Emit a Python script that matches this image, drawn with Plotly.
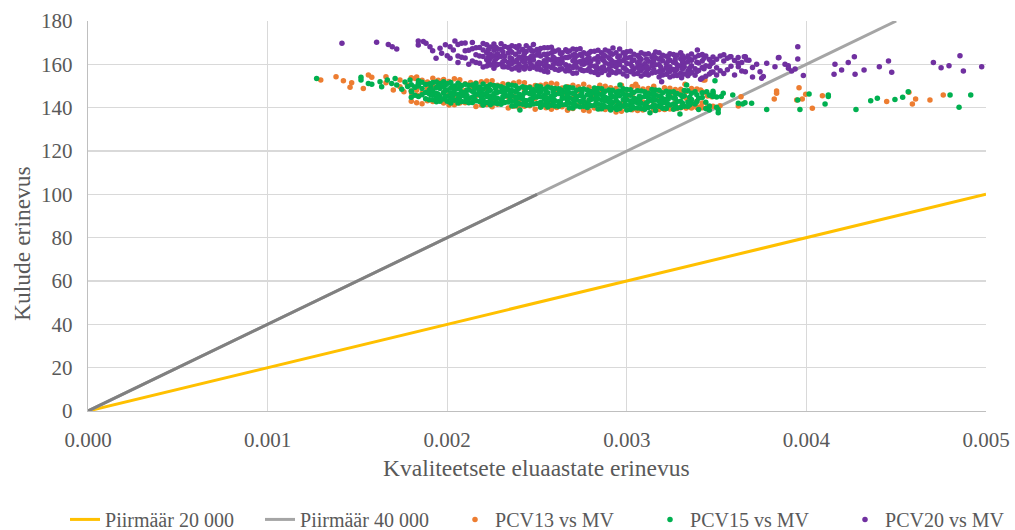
import plotly.graph_objects as go

# ---------------- threshold lines ----------------
piir20_x = [0.0, 0.005]
piir20_y = [0, 100]
piir40_x = [0.0, 0.0045]
piir40_y = [0, 180]
piir40_dark_x = [0.0, 0.0025]
piir40_dark_y = [0, 100]

# ---------------- PCV20 vs MV (purple) ----------------
pcv20_col_x = [
    0.00206, 0.00208, 0.00210, 0.00212, 0.00214, 0.00216, 0.00218, 0.00220, 0.00222, 0.00224,
    0.00226, 0.00228, 0.00230, 0.00232, 0.00234, 0.00236, 0.00238, 0.00240, 0.00242, 0.00244,
    0.00246, 0.00248, 0.00250, 0.00252, 0.00254, 0.00256, 0.00258, 0.00260, 0.00262, 0.00264,
    0.00266, 0.00268, 0.00270, 0.00272, 0.00274, 0.00276, 0.00278, 0.00280, 0.00282, 0.00284,
    0.00286, 0.00288, 0.00290, 0.00292, 0.00294, 0.00296, 0.00298, 0.00300, 0.00302, 0.00304,
    0.00306, 0.00308, 0.00310, 0.00312, 0.00314, 0.00316, 0.00318, 0.00320, 0.00322, 0.00324,
    0.00326, 0.00328, 0.00330, 0.00332, 0.00334, 0.00336, 0.00338, 0.00340, 0.00342, 0.00344,
    0.00346, 0.00348, 0.00350, 0.00352, 0.00354, 0.00356, 0.00358, 0.00360, 0.00362, 0.00364,
    0.00366, 0.00368, 0.00370,
]
pcv20_col_y = [
    [169.1, 163.8, 160.8], [169.7, 163.3], [166.3, 162.9, 169.8], [166.5, 160.0], [167.2, 161.5, 170.1],
    [164.4, 160.9, 167.6], [167.8, 163.8, 160.5], [169.6, 166.6, 163.6, 158.8], [169.0, 165.5, 162.1, 159.2], [168.0, 162.7, 159.7, 164.6],
    [166.5, 160.8, 169.4, 164.0, 158.2], [167.2, 163.2, 159.9, 164.9], [166.8, 163.6, 160.1, 169.5], [168.2, 163.8, 161.8, 158.9], [165.2, 160.9, 167.8, 158.7],
    [168.6, 165.6, 162.6, 157.8, 160.4], [168.1, 164.6, 161.2, 158.3], [165.7, 160.0, 168.6, 163.2, 157.4], [166.9, 161.6, 158.6, 163.5], [165.9, 162.7, 159.2, 168.6],
    [167.4, 163.0, 161.0, 158.1], [166.0, 162.0, 158.7, 163.7, 169.2], [164.3, 160.0, 166.9, 157.8], [167.3, 163.8, 160.4, 157.5], [167.6, 164.6, 161.6, 156.8, 159.4],
    [164.8, 159.1, 167.7, 162.3, 156.5], [165.2, 162.0, 158.5, 167.9], [166.0, 160.7, 157.7, 162.6], [166.6, 162.2, 160.2, 157.3], [165.3, 161.3, 158.0, 163.0],
    [166.7, 163.2, 159.8, 156.9], [163.5, 159.2, 166.1, 157.0], [164.2, 158.5, 167.1, 161.7, 155.9], [166.8, 163.8, 160.8, 156.0, 158.6], [164.5, 161.3, 157.8, 167.2],
    [165.3, 160.0, 157.0, 161.9], [164.6, 160.6, 157.3, 162.3], [165.9, 161.5, 159.5, 156.6], [166.0, 162.5, 159.1, 156.2], [163.6, 157.9, 166.5, 161.1, 155.3],
    [162.7, 158.4, 165.3, 156.2], [163.9, 160.7, 157.2, 166.6], [166.0, 163.0, 160.0, 155.2, 157.8], [164.7, 159.4, 156.4, 161.3], [165.3, 160.9, 158.9, 156.0],
    [163.9, 159.9, 156.6, 161.6, 167.1], [165.3, 161.8, 158.4, 155.5], [162.9, 157.2, 165.8, 160.4, 154.6], [163.3, 160.1, 156.6, 166.0], [162.0, 157.7, 164.6, 155.5],
    [164.1, 158.8, 155.8, 160.7], [165.4, 162.4, 159.4, 154.6, 157.2], [164.7, 160.3, 158.3, 155.4], [164.9, 161.4, 158.0, 155.1], [163.3, 159.3, 156.0, 161.0],
    [163.0, 159.8, 156.3, 165.7], [162.4, 156.7, 165.3, 159.9, 154.1], [161.6, 157.3, 164.2, 155.1], [163.7, 158.4, 155.4, 160.3], [164.9, 161.9, 158.9, 154.1, 156.7],
    [164.5, 161.0, 157.6, 154.7], [164.2, 159.8, 157.8, 154.9], [162.6, 159.4, 155.9, 165.3], [162.8, 158.8, 155.5, 160.5], [161.2, 156.9, 163.8, 154.7],
    [161.9, 156.2, 164.8, 159.4], [163.3, 158.0, 155.0], [164.1, 160.6, 157.2], [164.5, 161.5, 158.5, 153.7], [163.8, 159.4, 154.5],
    [162.2, 159.0, 155.5], [160.8, 156.5, 163.4], [162.4, 158.4, 155.1], [163.8, 157.0], [161.5, 155.8, 164.4],
    [162.8, 157.5], [163.5, 159.1], [161.8, 155.1], [160.5, 163.1], [156.9, 160.9],
    [163.5, 156.6], [161.9], [158.5, 154.2],
]
pcv20_fill_x = [
    0.00223, 0.00227, 0.00231, 0.00235, 0.00239, 0.00243, 0.00247, 0.00251, 0.00255, 0.00259,
    0.00263, 0.00267, 0.00271, 0.00275, 0.00279, 0.00283, 0.00287, 0.00291, 0.00295, 0.00299,
    0.00303, 0.00307, 0.00311, 0.00315, 0.00319, 0.00323, 0.00327, 0.00331, 0.00335, 0.00339,
    0.00343, 0.00347,
]
pcv20_fill_y = [
    [166.9, 161.0, 163.4], [162.4, 167.9, 159.6], [165.8, 161.2, 158.9], [160.2, 166.4, 163.0], [167.5, 162.1, 158.7],
    [161.0, 164.9, 157.9], [166.3, 159.6, 163.9], [160.9, 165.6, 158.3], [164.2, 157.6, 161.0], [159.8, 166.2, 163.4],
    [165.0, 160.3, 157.8], [158.4, 163.1, 165.9], [164.7, 159.6, 162.4], [157.3, 163.9, 160.2], [163.0, 158.1, 165.2],
    [159.2, 162.6, 156.9], [164.3, 158.8, 161.9], [157.0, 162.2, 165.1], [159.8, 163.4, 156.9], [162.8, 158.1, 164.9],
    [156.7, 161.6, 159.0], [163.2, 157.9, 161.3], [159.1, 162.5, 156.4], [161.9, 157.6, 164.3], [158.6, 162.9, 155.9],
    [161.4, 157.0, 163.6], [156.8, 160.9, 162.5], [161.3, 157.9, 164.0], [158.3, 162.3, 155.8], [161.0, 156.7],
    [162.8, 158.0], [160.4, 156.3],
]
pcv20_extra_x = [
    0.001414, 0.001607, 0.001672, 0.001694, 0.001719, 0.001839, 0.001839, 0.001867, 0.001882, 0.001904,
    0.001919, 0.001938, 0.001960, 0.001969, 0.002016, 0.002016, 0.002043, 0.002034, 0.001990, 0.002000,
    0.002923, 0.003194, 0.003393, 0.003305, 0.003411, 0.003575, 0.003654, 0.003751, 0.003844, 0.003621,
    0.003667, 0.003723, 0.003742, 0.003900, 0.003952, 0.003952, 0.003983, 0.003847, 0.003779, 0.003825,
    0.003881, 0.003899, 0.003918, 0.003937, 0.003760, 0.004159, 0.004154, 0.004196, 0.004233, 0.004267,
    0.004271, 0.004321, 0.004406, 0.004457, 0.004475, 0.004707, 0.004750, 0.004794, 0.004855, 0.004874,
    0.004976,
]
pcv20_extra_y = [
    169.7, 170.2, 169.2, 168.1, 167.1, 170.8, 168.9, 170.5, 169.7, 168.1,
    166.3, 162.8, 167.4, 165.1, 168.1, 162.8, 170.8, 166.6, 169.0, 164.0,
    167.5, 152.0, 166.6, 153.8, 153.1, 163.5, 163.5, 153.6, 163.0, 158.9,
    162.0, 160.0, 156.6, 158.2, 168.1, 162.5, 154.8, 163.1, 160.5, 158.9,
    160.0, 159.4, 156.9, 157.8, 154.4, 160.0, 155.4, 157.4, 160.9, 163.5,
    155.4, 157.4, 158.9, 161.5, 156.3, 160.9, 158.4, 159.4, 164.0, 156.9,
    158.9,
]

# ---------------- PCV15 vs MV (green) ----------------
pcv15_col_x = [
    0.00180, 0.00182, 0.00184, 0.00186, 0.00188, 0.00190, 0.00192, 0.00194, 0.00196, 0.00198,
    0.00200, 0.00202, 0.00204, 0.00206, 0.00208, 0.00210, 0.00212, 0.00214, 0.00216, 0.00218,
    0.00220, 0.00222, 0.00224, 0.00226, 0.00228, 0.00230, 0.00232, 0.00234, 0.00236, 0.00238,
    0.00240, 0.00242, 0.00244, 0.00246, 0.00248, 0.00250, 0.00252, 0.00254, 0.00256, 0.00258,
    0.00260, 0.00262, 0.00264, 0.00266, 0.00268, 0.00270, 0.00272, 0.00274, 0.00276, 0.00278,
    0.00280, 0.00282, 0.00284, 0.00286, 0.00288, 0.00290, 0.00292, 0.00294, 0.00296, 0.00298,
    0.00300, 0.00302, 0.00304, 0.00306, 0.00308, 0.00310, 0.00312, 0.00314, 0.00316, 0.00318,
    0.00320, 0.00322, 0.00324, 0.00326, 0.00328, 0.00330, 0.00332, 0.00334, 0.00336, 0.00338,
    0.00340, 0.00342, 0.00344, 0.00346, 0.00348, 0.00350,
]
pcv15_col_y = [
    [150.6, 147.7, 144.8], [149.5, 145.7], [150.0, 145.1, 152.4], [151.7, 148.8, 146.0], [150.7, 147.0, 144.1],
    [150.9, 146.4, 143.7, 148.1], [151.6, 147.8, 146.0, 143.6], [151.9, 149.3, 146.7, 144.6, 142.7], [148.9, 145.1, 151.1, 143.0], [149.8, 146.9, 144.0, 152.0],
    [151.1, 148.2, 145.4, 143.0], [149.2, 144.3, 151.6, 146.9, 142.1], [150.0, 146.3, 143.4, 148.0], [151.3, 148.7, 146.1, 144.0, 142.1], [150.1, 145.6, 142.9, 147.3],
    [150.8, 147.0, 145.2, 142.8], [148.2, 144.4, 150.4, 142.3], [150.5, 147.6, 144.8, 142.4], [149.0, 146.1, 143.2, 151.2], [149.5, 145.8, 142.9, 147.5],
    [148.5, 143.6, 150.9, 146.2, 141.4], [149.6, 145.1, 142.4, 146.8], [150.6, 148.0, 145.4, 143.3, 141.4], [150.2, 146.4, 144.6, 142.2], [150.0, 147.1, 144.3, 141.9],
    [147.5, 143.7, 149.7, 141.6], [149.0, 145.3, 142.4, 147.0], [148.4, 145.5, 142.6, 150.6], [147.9, 143.0, 150.3, 145.6, 140.8], [150.1, 147.5, 144.9, 142.8, 140.9],
    [149.0, 144.5, 141.8, 146.2], [149.6, 145.8, 144.0, 141.6], [147.0, 143.2, 149.2, 141.1], [149.3, 146.4, 143.6, 141.2], [148.3, 144.6, 141.7, 146.3],
    [147.8, 144.9, 141.9, 150.0], [147.3, 142.4, 149.7, 145.0, 140.2], [148.5, 144.0, 141.3, 145.7], [149.5, 146.9, 144.3, 142.2, 140.3], [149.1, 145.3, 143.5, 141.1],
    [148.9, 146.0, 143.2, 140.8], [146.5, 142.7, 148.7, 140.6], [147.9, 144.2, 141.3, 145.9], [147.3, 144.4, 141.5, 149.5], [146.9, 142.0, 149.3, 144.6, 139.8],
    [149.1, 146.5, 143.9, 141.8, 139.9], [148.0, 143.5, 140.8, 145.2], [148.5, 145.6, 142.8, 140.4], [148.6, 144.8, 143.0, 140.6], [146.0, 142.2, 148.2, 140.1],
    [147.5, 143.8, 140.9, 145.5], [146.9, 144.0, 141.1, 149.1], [146.5, 141.6, 148.9, 144.2, 139.4], [148.7, 146.1, 143.5, 141.4, 139.5], [147.6, 143.1, 140.4, 144.8],
    [148.2, 144.4, 142.6, 140.2], [148.0, 145.1, 142.3, 139.9], [147.1, 143.4, 140.5, 145.1], [145.5, 141.7, 147.7, 139.6], [146.5, 143.6, 140.7, 148.7],
    [146.0, 141.1, 148.4, 143.7, 138.9], [148.3, 145.7, 143.1, 141.0, 139.1], [147.1, 142.6, 139.9, 144.3], [147.8, 144.0, 142.2, 139.8], [147.7, 144.8, 142.0, 139.6],
    [145.2, 141.4, 147.4, 139.3], [146.7, 143.0, 140.1, 144.7], [146.2, 143.3, 140.4, 148.4], [145.8, 140.9, 148.2, 143.5, 138.7], [148.0, 145.4, 142.8, 140.7],
    [146.9, 142.4, 139.7, 144.1], [147.6, 143.8, 142.0, 139.6], [145.0, 141.2, 147.2], [147.4, 144.5, 141.7, 139.3], [146.5, 142.8, 139.9],
    [145.9, 143.0, 140.1], [145.5, 140.6, 147.9], [147.8, 142.6, 140.5], [146.6, 142.1, 143.8], [147.3, 141.7],
    [144.3, 139.1], [144.7, 146.9], [142.5, 139.6], [145.7, 140.8], [145.2, 147.6], [144.9, 140.2],
]
pcv15_fill_x = [
    0.00191, 0.00195, 0.00199, 0.00203, 0.00207, 0.00211, 0.00215, 0.00219, 0.00223, 0.00227,
    0.00231, 0.00235, 0.00239, 0.00243, 0.00247, 0.00251, 0.00255, 0.00259, 0.00263, 0.00267,
    0.00271, 0.00275, 0.00279, 0.00283, 0.00287, 0.00291, 0.00295, 0.00299, 0.00303, 0.00307,
    0.00311, 0.00315, 0.00319, 0.00323, 0.00327, 0.00331, 0.00335, 0.00339,
]
pcv15_fill_y = [
    [149.3, 145.9, 151.0], [146.2, 149.9, 144.6], [150.5, 147.9, 145.0], [145.7, 149.4, 143.9], [148.8, 144.9, 150.6],
    [145.6, 148.1, 143.5], [149.7, 147.0, 144.3], [144.9, 148.4, 142.8], [147.8, 145.0, 149.9], [144.2, 148.6, 146.7],
    [149.1, 145.2, 142.9], [143.8, 147.3, 145.8], [148.4, 144.6, 142.0], [146.9, 143.3, 149.2], [144.1, 147.6, 142.5],
    [148.1, 145.9, 141.9], [143.0, 146.6, 148.7], [147.4, 144.2, 141.7], [142.6, 146.8, 148.3], [145.8, 143.1, 147.9],
    [141.5, 146.3, 143.9], [147.2, 142.7, 145.4], [143.5, 146.1, 141.3], [145.9, 142.2, 147.6], [141.0, 144.9, 146.8],
    [146.4, 143.0, 140.8], [142.4, 145.6, 147.3], [145.1, 141.6, 143.5], [146.9, 142.8, 140.6], [141.9, 145.3, 143.2],
    [146.1, 142.3, 140.4], [144.6, 141.2, 146.5], [142.0, 145.0, 140.5], [145.6, 141.5, 143.9], [140.9, 144.4, 146.4],
    [145.2, 142.0], [141.4, 144.8], [146.0, 142.9],
]
pcv15_extra_x = [
    0.001273, 0.001520, 0.001520, 0.001561, 0.001580, 0.001626, 0.001635, 0.001667, 0.001691, 0.001710,
    0.001719, 0.001747, 0.001793, 0.001802, 0.001821, 0.001839, 0.001765, 0.001780, 0.002962, 0.002944,
    0.002910, 0.003129, 0.002405, 0.002200, 0.003296, 0.003491, 0.003333, 0.003537, 0.003590, 0.003695,
    0.003509, 0.003459, 0.003645, 0.003445, 0.003480, 0.003526, 0.003509, 0.003621, 0.003658, 0.003779,
    0.003952, 0.003964, 0.004015, 0.004104, 0.004122, 0.004122, 0.004276, 0.004358, 0.004395, 0.004493,
    0.004536, 0.004567, 0.004800, 0.004850, 0.004915,
]
pcv15_extra_y = [
    153.5, 154.0, 152.8, 151.2, 150.8, 152.0, 149.7, 152.8, 151.2, 153.5,
    150.5, 148.5, 152.8, 147.4, 149.4, 151.2, 151.8, 149.8, 150.5, 139.2,
    138.9, 137.7, 138.9, 141.2, 137.1, 152.4, 150.5, 146.6, 145.8, 142.0,
    137.7, 138.9, 141.7, 147.4, 146.6, 145.2, 139.2, 142.0, 142.3, 139.2,
    143.5, 139.2, 146.3, 141.7, 145.8, 145.1, 139.2, 143.2, 144.3, 143.8,
    144.8, 147.4, 145.8, 140.2, 145.8,
]

# ---------------- PCV13 vs MV (orange) ----------------
pcv13_col_x = [
    0.00180, 0.00183, 0.00186, 0.00189, 0.00192, 0.00195, 0.00198, 0.00201, 0.00204, 0.00207,
    0.00210, 0.00213, 0.00216, 0.00219, 0.00222, 0.00225, 0.00228, 0.00231, 0.00234, 0.00237,
    0.00240, 0.00243, 0.00246, 0.00249, 0.00252, 0.00255, 0.00258, 0.00261, 0.00264, 0.00267,
    0.00270, 0.00273, 0.00276, 0.00279, 0.00282, 0.00285, 0.00288, 0.00291, 0.00294, 0.00297,
    0.00300, 0.00303, 0.00306, 0.00309, 0.00312, 0.00315, 0.00318, 0.00321, 0.00324, 0.00327,
    0.00330, 0.00333, 0.00336, 0.00339, 0.00342, 0.00345, 0.00348,
]
pcv13_col_y = [
    [153.8, 147.7, 143.0], [154.2, 145.8, 142.3], [152.7, 146.7, 141.8], [151.9, 148.8, 143.2], [149.9, 142.8, 153.6],
    [150.6, 144.1, 152.6], [153.0, 146.9, 142.2], [152.1, 146.1, 141.2], [153.3, 144.8, 141.3], [149.2, 142.1, 152.9],
    [151.0, 147.9, 142.3], [149.6, 143.1, 151.6], [151.4, 145.4, 140.5], [152.0, 145.9, 141.2], [148.6, 141.5, 152.3],
    [152.4, 143.9, 140.4], [150.3, 147.2, 141.6], [149.0, 142.5, 151.0], [150.8, 144.8, 139.9], [151.4, 145.3, 140.6],
    [151.9, 143.4, 140.0], [147.8, 140.7, 151.5], [149.6, 146.5, 140.9], [150.2, 144.2, 139.3], [148.3, 141.8, 150.3],
    [150.8, 144.7, 140.0], [151.3, 142.8, 139.3], [147.2, 140.1, 150.9], [149.1, 146.0, 140.4], [149.7, 143.7, 138.8],
    [150.4, 144.3, 139.6], [147.7, 141.2, 149.7], [150.8, 142.3, 138.8], [149.4, 143.4, 138.5], [148.6, 145.5, 139.9],
    [146.6, 139.5, 150.3], [149.9, 143.8, 139.1], [147.2, 140.7, 149.2], [148.9, 142.9, 138.0], [150.3, 141.8, 138.3],
    [148.1, 145.0, 139.4], [146.1, 139.0, 149.8], [149.5, 143.4, 138.7], [148.6, 142.6, 138.9], [146.8, 140.3, 148.8],
    [149.9, 141.4, 138.9], [147.8, 144.7, 139.1], [149.2, 143.1, 139.2], [145.8, 139.4, 149.0], [148.4, 142.3, 139.6],
    [146.5, 140.0, 148.5], [147.5, 144.4, 139.8], [148.9, 141.1, 140.2], [148.6, 142.8, 140.4], [147.4, 142.1, 140.0],
    [145.4, 140.3], [146.2, 140.6],
]
pcv13_extra_x = [
    0.001296, 0.001381, 0.001422, 0.001468, 0.001459, 0.001533, 0.001561, 0.001580, 0.001659, 0.001659,
    0.001700, 0.001737, 0.001737, 0.001759, 0.001778, 0.001802, 0.001821, 0.001830, 0.002025, 0.003050,
    0.003435, 0.003324, 0.003411, 0.003445, 0.003473, 0.003519, 0.003636, 0.003621, 0.003426, 0.003834,
    0.003834, 0.003821, 0.003959, 0.003946, 0.003977, 0.003996, 0.004033, 0.004089, 0.004447, 0.004571,
    0.004608, 0.004590, 0.004688, 0.004762, 0.003300, 0.003330, 0.003360, 0.003390, 0.003410, 0.003180,
    0.003220, 0.003260, 0.003280,
]
pcv13_extra_y = [
    152.8, 154.3, 152.4, 151.5, 149.4, 148.9, 155.1, 154.0, 154.3, 151.5,
    148.2, 152.8, 149.7, 147.4, 150.5, 146.6, 153.5, 148.2, 145.0, 150.8,
    152.8, 150.8, 148.2, 146.6, 145.0, 140.9, 145.0, 140.8, 152.8, 147.7,
    146.6, 144.0, 149.2, 143.5, 144.0, 146.2, 139.7, 145.5, 142.8, 147.1,
    144.0, 141.7, 143.5, 145.8, 140.3, 140.0, 139.9, 140.1, 140.4, 140.2,
    139.9, 140.5, 139.6,
]

tick_vals_x = [0.000, 0.001, 0.002, 0.003, 0.004, 0.005]
tick_vals_y = [0, 20, 40, 60, 80, 100, 120, 140, 160, 180]


def expand(*groups):
    """groups: (x, y) pairs where each y is a number or a list of readings at that x."""
    xs, ys = [], []
    for gx, gy in groups:
        for x, yv in zip(gx, gy):
            if isinstance(yv, list):
                for y in yv:
                    xs.append(x)
                    ys.append(y)
            else:
                xs.append(x)
                ys.append(yv)
    return xs, ys


p13x, p13y = expand((pcv13_col_x, pcv13_col_y), (pcv13_extra_x, pcv13_extra_y))
p15x, p15y = expand((pcv15_col_x, pcv15_col_y), (pcv15_fill_x, pcv15_fill_y),
                    (pcv15_extra_x, pcv15_extra_y))
p20x, p20y = expand((pcv20_col_x, pcv20_col_y), (pcv20_fill_x, pcv20_fill_y),
                    (pcv20_extra_x, pcv20_extra_y))

FONT = "Liberation Serif, Times New Roman, Times, Tinos, DejaVu Serif, Noto Serif, serif"
TXT = "#595959"
MS = 5.5

fig = go.Figure()
fig.add_trace(go.Scatter(x=piir20_x, y=piir20_y, mode="lines", name="Piirmäär 20 000",
                         line=dict(color="#ffc000", width=3)))
fig.add_trace(go.Scatter(x=piir40_x, y=piir40_y, mode="lines", name="Piirmäär 40 000",
                         line=dict(color="#a5a5a5", width=3)))
fig.add_trace(go.Scatter(x=piir40_dark_x, y=piir40_dark_y, mode="lines", showlegend=False,
                         line=dict(color="#808080", width=3), hoverinfo="skip"))
fig.add_trace(go.Scatter(x=p13x, y=p13y, mode="markers", name="PCV13 vs MV",
                         marker=dict(color="#ed7d31", size=MS)))
fig.add_trace(go.Scatter(x=p15x, y=p15y, mode="markers", name="PCV15 vs MV",
                         marker=dict(color="#00b050", size=MS)))
fig.add_trace(go.Scatter(x=p20x, y=p20y, mode="markers", name="PCV20 vs MV",
                         marker=dict(color="#7030a0", size=MS)))

fig.update_layout(
    width=1015, height=530,
    margin=dict(l=88, r=29, t=21, b=119, autoexpand=False),
    paper_bgcolor="white", plot_bgcolor="white",
    font=dict(family=FONT, size=21, color=TXT),
    legend=dict(orientation="h", x=-0.0256, xanchor="left", y=-0.228, yanchor="top",
                font=dict(family=FONT, size=20, color=TXT),
                entrywidth=150, itemsizing="trace", tracegroupgap=0,
                bgcolor="rgba(0,0,0,0)"),
    annotations=[
        dict(text="Kvaliteetsete eluaastate erinevus", xref="paper", yref="paper",
             x=0.499, y=-0.146, xanchor="center", yanchor="middle", showarrow=False,
             font=dict(family=FONT, size=23.5, color=TXT)),
        dict(text="Kulude erinevus", xref="paper", yref="paper",
             x=-0.0735, y=0.431, xanchor="center", yanchor="middle", textangle=-90,
             showarrow=False, font=dict(family=FONT, size=23.5, color=TXT)),
    ],
)
fig.update_xaxes(range=[0, 0.005], tickvals=tick_vals_x, tickformat=".3f",
                 showgrid=True, gridcolor="#d9d9d9", gridwidth=1.3,
                 zeroline=False, showline=True, linecolor="#bfbfbf", linewidth=1.3,
                 ticks="", ticklabelstandoff=9, automargin=False, fixedrange=True)
fig.update_yaxes(range=[0, 180], tickvals=tick_vals_y,
                 showgrid=True, gridcolor="#d9d9d9", gridwidth=1.3,
                 zeroline=False, showline=True, linecolor="#bfbfbf", linewidth=1.3,
                 ticks="", ticklabelstandoff=10, automargin=False, fixedrange=True)

# remove the browser's default 8px page margin so the 1015x530 figure fills the window
fig.write_html("out.html", config={"displayModeBar": False, "staticPlot": True},
               post_script="document.body.style.margin='0';")
